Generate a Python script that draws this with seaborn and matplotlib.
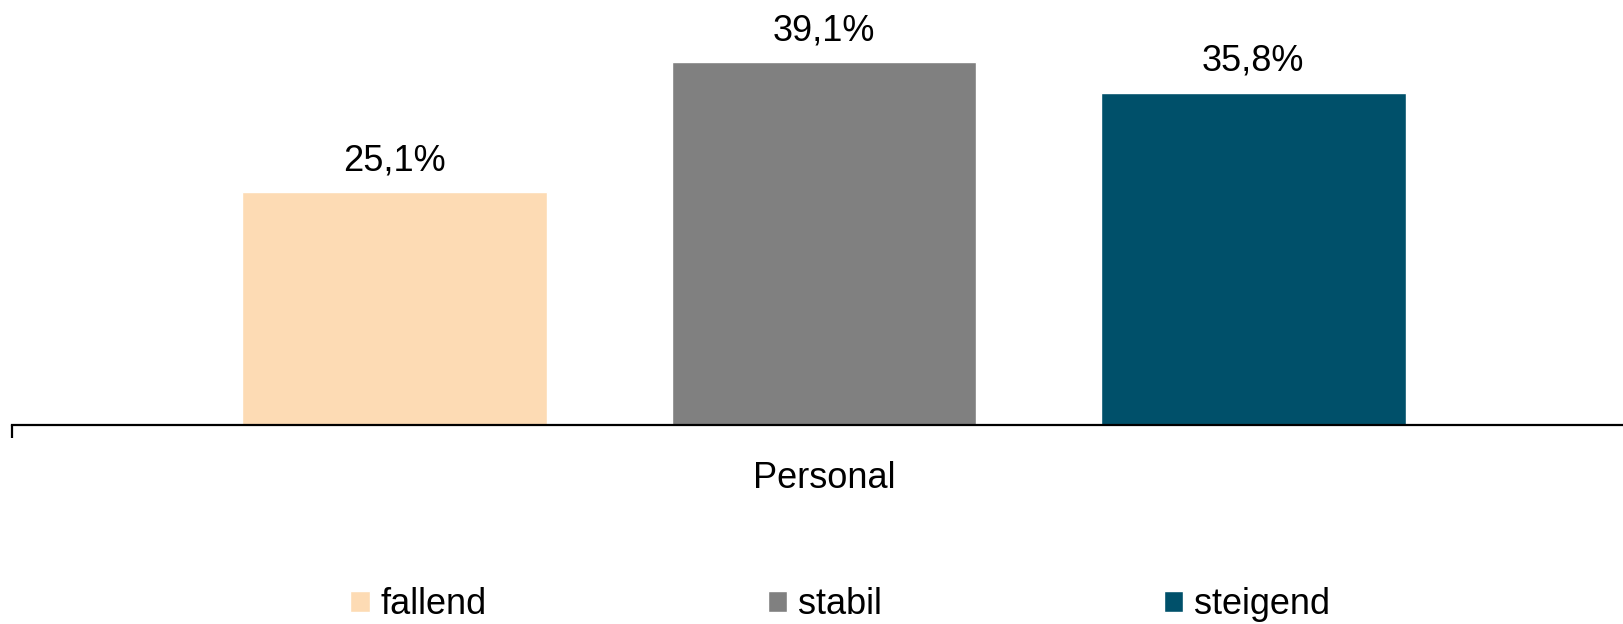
import pandas as pd
import matplotlib.pyplot as plt
import seaborn as sns

# --- Data ---
category = ["Personal"]
states = ["fallend", "stabil", "steigend"]
values = [25.1, 39.1, 35.8]
colors = ["#FDDBB4", "#808080", "#00506A"]

df = pd.DataFrame({
    "Kategorie": category * len(states),
    "Entwicklung": states,
    "Anteil": values,
})

sns.set_theme(style="white")
plt.rcParams['font.family'] = ['Liberation Sans', 'DejaVu Sans']
plt.rcParams['text.color'] = 'black'

fig = plt.figure(figsize=(16.24, 6.24), dpi=100)
ax = fig.add_axes([12 / 1624, 199 / 624, 1610 / 1624, 425 / 624])

sns.barplot(data=df, x="Kategorie", y="Anteil", hue="Entwicklung",
            palette=colors, gap=0.29, saturation=1, legend=True, ax=ax)

# --- Value labels ---
for cont, v in zip(ax.containers, values):
    ax.bar_label(cont, labels=[f"{v:.1f}%".replace(".", ",")],
                 padding=10, fontsize=26, color="black")

# --- Axes styling ---
ax.set_ylim(0, 45.8)
x0 = -0.5 - 7 / 1610
ax.set_xlim(x0, x0 + 1)
ax.set_yticks([])
ax.set_xlabel("")
ax.set_ylabel("")
for side in ["top", "right", "left"]:
    ax.spines[side].set_visible(False)
ax.spines["bottom"].set_color("black")
ax.spines["bottom"].set_linewidth(1.6)
ax.tick_params(axis="x", which="major", length=0, pad=26, labelsize=26,
               labelcolor="black")
ax.set_xticks([x0], minor=True)
ax.tick_params(axis="x", which="minor", length=9, width=1.6,
               color="black", direction="out", bottom=True)

# --- Legend ---
handles, labels = ax.get_legend_handles_labels()
ax.get_legend().remove()
leg = fig.legend(handles, labels, loc="center", bbox_to_anchor=(840 / 1624, 19 / 624),
                 ncol=3, frameon=False, fontsize=26, handlelength=0.53,
                 handleheight=0.53, handletextpad=0.3, columnspacing=7.8)
for t in leg.get_texts():
    t.set_color("black")

plt.savefig("out.png", dpi=100)
plt.close()
